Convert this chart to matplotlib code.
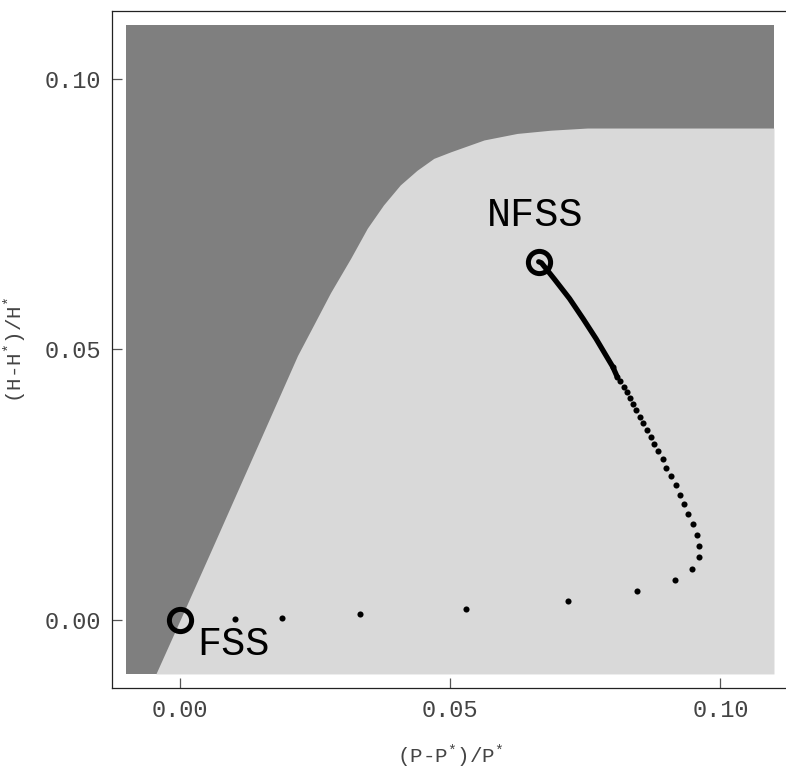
import matplotlib
matplotlib.use("Agg")
import matplotlib.pyplot as plt
import numpy as np

plt.rcParams["font.family"] = ["Liberation Mono", "DejaVu Sans Mono"]
plt.rcParams["mathtext.fontset"] = "custom"
plt.rcParams["mathtext.rm"] = "Liberation Mono"
plt.rcParams["mathtext.it"] = "Liberation Mono"

# Region extent (relative deviations)
region_min = -0.01
region_max = 0.11

# Boundary between the two regions, (P-P*)/P* vs (H-H*)/H*
boundary_p = [-0.0043, 0.0002, 0.0061, 0.0219, 0.0248, 0.0280, 0.0317,
              0.0348, 0.0378, 0.0409, 0.0440, 0.0471, 0.0502, 0.0564,
              0.0625, 0.0687, 0.0755, 0.1100]
boundary_h = [-0.0100, 0.0000, 0.0132, 0.0488, 0.0543, 0.0604, 0.0667,
              0.0723, 0.0766, 0.0803, 0.0830, 0.0852, 0.0864, 0.0886,
              0.0898, 0.0904, 0.0908, 0.0908]

# Steady states
nfss = (0.0664, 0.0662)
fss = (0.0, 0.0)

# Early part of the trajectory leaving NFSS (points too close to separate)
dense_p = [0.0664, 0.0669, 0.0693, 0.0721, 0.0746, 0.0770, 0.0792, 0.0801, 0.0809]
dense_h = [0.0662, 0.0660, 0.0630, 0.0594, 0.0557, 0.0520, 0.0483, 0.0468, 0.0450]

# Individual iterates of the trajectory
traj_p = [0.0801, 0.0809, 0.0815, 0.0821, 0.0827, 0.0833, 0.0839, 0.0844,
          0.0851, 0.0857, 0.0864, 0.0871, 0.0878, 0.0885, 0.0893, 0.0900,
          0.0908, 0.0917, 0.0925, 0.0933, 0.0941, 0.0949, 0.0956, 0.0960,
          0.0960, 0.0948, 0.0916, 0.0846, 0.0718, 0.0530, 0.0334, 0.0189,
          0.0102]
traj_h = [0.0468, 0.0450, 0.0441, 0.0431, 0.0421, 0.0410, 0.0400, 0.0389,
          0.0376, 0.0365, 0.0352, 0.0339, 0.0325, 0.0312, 0.0297, 0.0282,
          0.0267, 0.0250, 0.0232, 0.0215, 0.0196, 0.0177, 0.0158, 0.0138,
          0.0117, 0.0095, 0.0075, 0.0054, 0.0036, 0.0021, 0.0011, 0.0005,
          0.0002]

x_ticks = [0.00, 0.05, 0.10]
y_ticks = [0.00, 0.05, 0.10]

fig = plt.figure(figsize=(7.86, 7.72), dpi=100)
ax = fig.add_axes([112 / 786, 84 / 772, 676 / 786, 677 / 772])

# Dark background region
ax.fill([region_min, region_max, region_max, region_min],
        [region_min, region_min, region_max, region_max],
        color="#7f7f7f", lw=0, zorder=1)
# Light region below the boundary
poly_p = list(boundary_p) + [region_max, boundary_p[0]]
poly_h = list(boundary_h) + [region_min, region_min]
ax.fill(poly_p, poly_h, color="#d9d9d9", lw=0, zorder=2)

ax.plot(dense_p, dense_h, color="black", lw=3.8, solid_capstyle="round",
        solid_joinstyle="round", zorder=3)
ax.plot(traj_p, traj_h, "o", color="black", ms=4.4, mew=0, zorder=3)

for pt in (nfss, fss):
    ax.plot(pt[0], pt[1], "o", mfc="none", mec="black", ms=16, mew=3.6, zorder=4)

ax.text(nfss[0] - 0.0006, 0.0748, "NFSS", fontsize=29, ha="center", va="center",
        color="black", zorder=5)
ax.text(0.0099, -0.0043, "FSS", fontsize=29, ha="center", va="center",
        color="black", zorder=5)

ax.set_xlim(-0.0125, 0.1125)
ax.set_ylim(-0.0125, 0.1125)
ax.set_xticks(x_ticks)
ax.set_yticks(y_ticks)
ax.set_xticklabels([f"{v:.2f}" for v in x_ticks])
ax.set_yticklabels([f"{v:.2f}" for v in y_ticks])

ax.tick_params(direction="in", length=7.2, width=0.9, color="#555555",
               labelsize=17, labelcolor="#444444", pad=8)
for side in ("left", "bottom", "top"):
    ax.spines[side].set_color("#222222")
    ax.spines[side].set_linewidth(0.9)
ax.spines["right"].set_visible(False)

ax.set_xlabel("(P-P$^{*}$)/P$^{*}$", fontsize=15, color="#444444", labelpad=15)
ax.set_ylabel("(H-H$^{*}$)/H$^{*}$", fontsize=15, color="#444444", labelpad=11)

fig.savefig("out.png", dpi=100)
